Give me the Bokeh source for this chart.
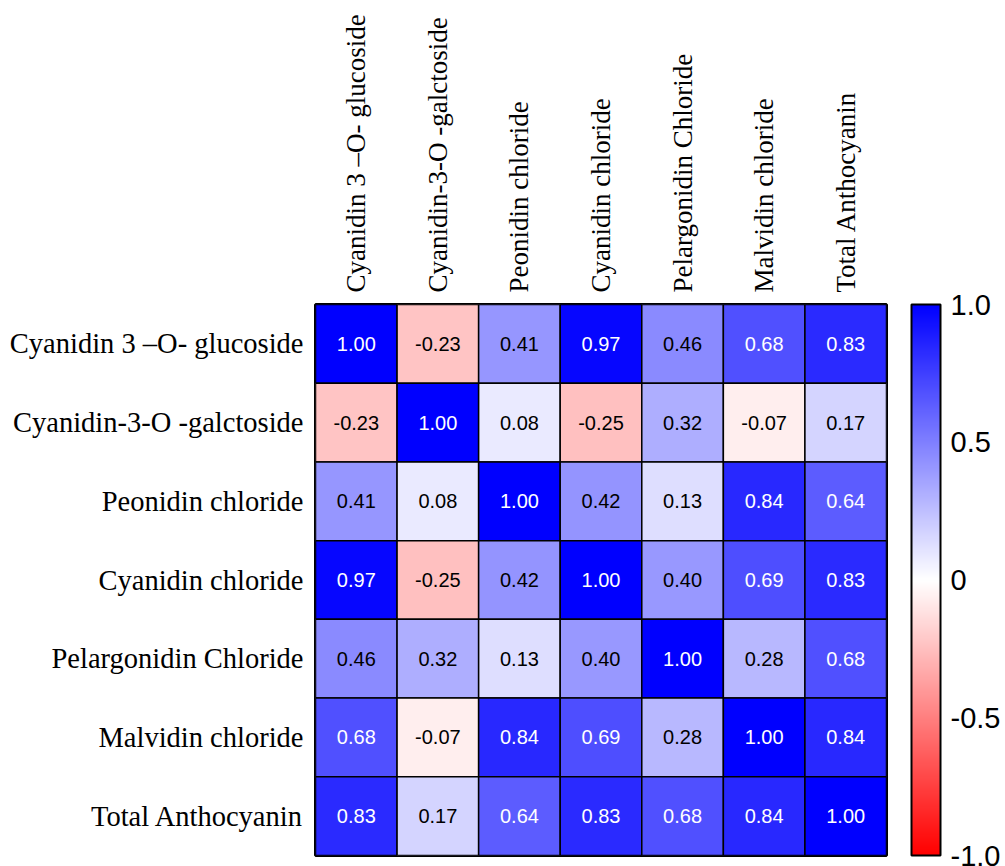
from bokeh.plotting import figure
from bokeh.models import ColumnDataSource, LinearColorMapper, ColorBar, FixedTicker
from bokeh.core.properties import value
from bokeh.transform import transform
from bokeh.embed import file_html
from bokeh.resources import INLINE

labels = ["Cyanidin 3 \u2013O- glucoside", "Cyanidin-3-O -galctoside", "Peonidin chloride",
          "Cyanidin chloride", "Pelargonidin Chloride", "Malvidin chloride", "Total Anthocyanin"]

corr = [
    [1.00, -0.23, 0.41, 0.97, 0.46, 0.68, 0.83],
    [-0.23, 1.00, 0.08, -0.25, 0.32, -0.07, 0.17],
    [0.41, 0.08, 1.00, 0.42, 0.13, 0.84, 0.64],
    [0.97, -0.25, 0.42, 1.00, 0.40, 0.69, 0.83],
    [0.46, 0.32, 0.13, 0.40, 1.00, 0.28, 0.68],
    [0.68, -0.07, 0.84, 0.69, 0.28, 1.00, 0.84],
    [0.83, 0.17, 0.64, 0.83, 0.68, 0.84, 1.00],
]

cbar_ticks = [-1.0, -0.5, 0.0, 0.5, 1.0]
cbar_tick_labels = ["-1.0", "-0.5", "0", "0.5", "1.0"]

xs, ys, vals, txt, tcol = [], [], [], [], []
for i, rname in enumerate(labels):
    for j, cname in enumerate(labels):
        v = corr[i][j]
        xs.append(cname)
        ys.append(rname)
        vals.append(v)
        txt.append(f"{v:.2f}")
        tcol.append("white" if v > 0.5 else "black")

src = ColumnDataSource(dict(x=xs, y=ys, v=vals, t=txt, tc=tcol))

def _c(a):
    return int(round(max(0, min(255, a))))

palette = []
for k in range(256):
    t = -1 + 2 * k / 255
    if t < 0:
        r, g, b = 255, 255 * (1 + t), 255 * (1 + t)
    else:
        r, g, b = 255 * (1 - t), 255 * (1 - t), 255
    palette.append("#%02x%02x%02x" % (_c(r), _c(g), _c(b)))

mapper = LinearColorMapper(palette=palette, low=-1, high=1)

p = figure(width=1003, height=866, x_range=labels, y_range=list(reversed(labels)),
           x_axis_location="above", output_backend="svg", toolbar_location=None,
           min_border_left=315, min_border_top=304, min_border_bottom=11, min_border_right=116)

p.rect(x="x", y="y", width=1, height=1, source=src,
       fill_color=transform("v", mapper), line_color="black", line_width=1.5)
p.text(x="x", y="y", text="t", source=src, text_color="tc", text_align="center",
       text_baseline="middle", text_font=value("Liberation Sans"), text_font_size="20px")

for ax in (p.xaxis[0], p.yaxis[0]):
    ax.axis_line_color = None
    ax.major_tick_line_color = None
    ax.minor_tick_line_color = None
    ax.major_label_text_font = "Liberation Serif"
    ax.major_label_text_color = "black"
    ax.major_label_standoff = 6
p.xaxis.major_label_text_font_size = "27px"
p.yaxis.major_label_text_font_size = "28.5px"
p.xaxis.major_label_orientation = "vertical"

p.grid.visible = False
p.outline_line_color = "black"
p.outline_line_width = 3
p.x_range.range_padding = 0
p.y_range.range_padding = 0

cb = ColorBar(color_mapper=mapper, width=29, height=551, location=(25, 0), padding=0, margin=0,
              ticker=FixedTicker(ticks=cbar_ticks),
              major_label_overrides={t: l for t, l in zip(cbar_ticks, cbar_tick_labels)},
              major_tick_line_color=None, minor_tick_line_color=None,
              bar_line_color="black", bar_line_width=2,
              major_label_text_font="Liberation Sans", major_label_text_font_size="29px",
              major_label_text_color="black", label_standoff=10,
              border_line_color=None, background_fill_color=None)
p.add_layout(cb, "right")

open("out.html", "w").write(file_html(p, INLINE))
